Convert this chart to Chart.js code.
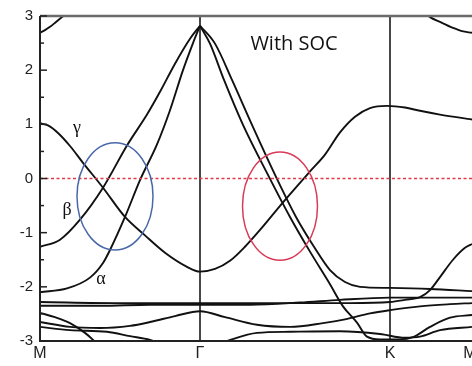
<!DOCTYPE html>
<html>
<head>
<meta charset="utf-8">
<script src="https://cdn.jsdelivr.net/npm/chart.js@4.4.0/dist/chart.umd.min.js"></script>
<style>
  html, body { margin: 0; padding: 0; background: #fff; }
  #wrap { width: 472px; height: 366px; }
</style>
</head>
<body>
<div id="wrap"><canvas id="bandChart"></canvas></div>
<script>
// k-path: high-symmetry points
var kLabels = ['M', 'Γ', 'K', 'M'];
var kPositions = [0, 160, 350, 430];
var kMax = 432;
var energyTicks = [-3, -2, -1, 0, 1, 2, 3];

// bands as [k, E(eV)]
var bandTopM1 = [[0, 2.69], [5, 2.74], [10, 2.80], [16, 2.89], [22, 2.98], [28, 3.07]];
var bandTopM2 = [[384, 3.07], [390, 2.98], [400, 2.89], [413, 2.78], [422, 2.72], [432, 2.69]];
var bandGamma = [[0, 1.02], [8, 0.98], [18, 0.84], [30, 0.60], [43, 0.29], [63, -0.17], [85, -0.71],
  [105, -1.05], [125, -1.37], [147, -1.63], [160, -1.72], [175, -1.67], [190, -1.52], [205, -1.26],
  [220, -0.95], [243, -0.44], [270, 0.13], [285, 0.44], [300, 0.85], [315, 1.14], [330, 1.30],
  [347, 1.34], [365, 1.31], [380, 1.25], [400, 1.18], [432, 1.09]];
var bandBeta = [[0, -1.26], [20, -1.13], [40, -0.76], [63, -0.17], [87, 0.61], [107, 1.18],
  [120, 1.60], [135, 2.12], [150, 2.58], [160, 2.82]];
var bandAlpha = [[0, -2.10], [27, -2.03], [50, -1.83], [63, -1.56], [70, -1.32], [85, -0.71],
  [100, -0.03], [117, 0.63], [130, 1.26], [143, 2.00], [153, 2.50], [160, 2.82]];
var bandR1 = [[160, 2.82], [170, 2.49], [184, 1.82], [203, 0.99], [229, 0.03], [250, -0.71],
  [270, -1.35], [289, -1.92], [303, -2.36], [317, -2.66], [327, -2.92], [340, -2.97],
  [360, -2.97], [373, -2.93], [390, -2.74], [410, -2.57], [432, -2.52]];
var bandR2 = [[160, 2.82], [175, 2.49], [192, 1.82], [212, 0.99], [236, 0.03], [256, -0.71],
  [274, -1.26], [290, -1.69], [305, -1.91], [320, -2.00], [350, -2.02], [390, -2.04], [432, -2.08]];
var bandD = [[0, -2.28], [80, -2.30], [160, -2.30], [210, -2.30], [260, -2.30], [310, -2.30],
  [350, -2.28], [365, -2.24], [380, -2.19], [390, -2.06], [400, -1.82], [413, -1.50],
  [425, -1.28], [432, -1.21]];
var bandF2 = [[0, -2.35], [60, -2.35], [110, -2.33], [160, -2.33], [210, -2.33], [260, -2.29],
  [300, -2.24], [350, -2.20], [390, -2.20], [432, -2.20]];
var bandF3 = [[0, -2.48], [15, -2.56], [30, -2.67], [45, -2.85], [53, -2.98], [60, -3.13]];
var bandF4 = [[0, -2.65], [30, -2.74], [60, -2.76], [90, -2.72], [110, -2.65], [135, -2.54],
  [160, -2.45], [185, -2.56], [217, -2.70], [250, -2.74], [283, -2.67], [305, -2.60],
  [330, -2.49], [350, -2.43], [380, -2.36], [410, -2.32], [432, -2.30]];
var bandF5 = [[0, -2.74], [30, -2.80], [67, -2.83], [90, -2.91], [110, -2.98], [125, -3.09]];
var bandF6 = [[165, -3.11], [183, -3.02], [217, -2.85], [250, -2.83], [300, -2.82], [340, -2.87],
  [365, -2.94], [380, -2.92], [400, -2.80], [432, -2.74]];

var bands = [bandTopM1, bandTopM2, bandGamma, bandBeta, bandAlpha, bandR1, bandR2,
  bandD, bandF2, bandF3, bandF4, bandF5, bandF6];

// crossing regions: [k centre, E centre, k radius, E radius]
var blueRing = [75, -0.33, 38, 0.99];
var redRing = [240, -0.51, 37.5, 1.0];

// text labels: [text, k, E]
var greekLabels = [['γ', 37, 0.92], ['β', 27, -0.58], ['α', 61, -1.86]];
var titleLabel = ['With SOC', 254, 2.48];

var datasets = bands.map(function(b) {
  return {
    data: b.map(function(p) { return { x: p[0], y: p[1] }; }),
    borderColor: '#111',
    borderWidth: 1.9,
    pointRadius: 0,
    fill: false,
    cubicInterpolationMode: 'monotone',
    clip: 0
  };
});

var overlay = {
  id: 'overlay',
  beforeDatasetsDraw: function(chart) {
    var ctx = chart.ctx, a = chart.chartArea, xs = chart.scales.x;
    ctx.save();
    ctx.strokeStyle = '#333';
    ctx.lineWidth = 1.8;
    kPositions.slice(1, 3).forEach(function(k) {
      var px = xs.getPixelForValue(k);
      ctx.beginPath();
      ctx.moveTo(px, a.top);
      ctx.lineTo(px, a.bottom);
      ctx.stroke();
    });
    ctx.restore();
  },
  afterDatasetsDraw: function(chart) {
    var ctx = chart.ctx, a = chart.chartArea, xs = chart.scales.x, ys = chart.scales.y;
    ctx.save();

    // Fermi level
    ctx.strokeStyle = '#e23a48';
    ctx.lineWidth = 1.6;
    ctx.setLineDash([3, 2.5]);
    var y0 = ys.getPixelForValue(0);
    ctx.beginPath();
    ctx.moveTo(a.left, y0);
    ctx.lineTo(a.right, y0);
    ctx.stroke();
    ctx.setLineDash([]);

    // rings
    function ring(r, color) {
      var cx = xs.getPixelForValue(r[0]), cy = ys.getPixelForValue(r[1]);
      var rx = xs.getPixelForValue(r[0] + r[2]) - cx;
      var ry = cy - ys.getPixelForValue(r[1] + r[3]);
      ctx.strokeStyle = color;
      ctx.lineWidth = 1.5;
      ctx.beginPath();
      ctx.ellipse(cx, cy, rx, ry, 0, 0, Math.PI * 2);
      ctx.stroke();
    }
    ring(blueRing, '#4a68a8');
    ring(redRing, '#d83c58');

    // frame
    ctx.strokeStyle = '#6a6a6a';
    ctx.lineWidth = 2.5;
    ctx.beginPath();
    ctx.moveTo(a.left, a.top);
    ctx.lineTo(a.right, a.top);
    ctx.stroke();
    ctx.strokeStyle = '#222';
    ctx.lineWidth = 2;
    ctx.beginPath();
    ctx.moveTo(a.left, a.top);
    ctx.lineTo(a.left, a.bottom);
    ctx.lineTo(a.right, a.bottom);
    ctx.stroke();

    // inward ticks on the energy axis
    ctx.lineWidth = 1.5;
    for (var e = -3; e <= 3; e += 0.5) {
      var py = ys.getPixelForValue(e);
      var len = Number.isInteger(e) ? 7 : 4;
      ctx.beginPath();
      ctx.moveTo(a.left, py);
      ctx.lineTo(a.left + len, py);
      ctx.stroke();
    }

    // labels
    ctx.fillStyle = '#111';
    ctx.textAlign = 'center';
    ctx.textBaseline = 'middle';
    ctx.font = '18px "Liberation Serif", serif';
    greekLabels.forEach(function(g) {
      ctx.fillText(g[0], xs.getPixelForValue(g[1]), ys.getPixelForValue(g[2]));
    });
    ctx.font = '20px "Open Sans", sans-serif';
    ctx.fillText(titleLabel[0], xs.getPixelForValue(titleLabel[1]), ys.getPixelForValue(titleLabel[2]));

    ctx.restore();
  }
};

new Chart(document.getElementById('bandChart'), {
  type: 'line',
  data: { datasets: datasets },
  options: {
    responsive: true,
    maintainAspectRatio: false,
    animation: false,
    layout: { padding: { top: 16, right: 0, left: 0, bottom: 0 } },
    plugins: { legend: { display: false }, tooltip: { enabled: false } },
    scales: {
      x: {
        type: 'linear',
        min: 0,
        max: kMax,
        grid: { display: false, drawTicks: false },
        border: { display: false },
        afterBuildTicks: function(scale) {
          scale.ticks = kPositions.map(function(k) { return { value: k }; });
        },
        afterFit: function(scale) {
          scale.height = 25;
          scale.paddingLeft = 0;
          scale.paddingRight = 0;
        },
        ticks: {
          autoSkip: false,
          maxRotation: 0,
          padding: 3,
          color: '#222',
          font: { family: '"Liberation Sans", Arial, sans-serif', size: 16 },
          callback: function(v, i) { return kLabels[i]; }
        }
      },
      y: {
        min: -3,
        max: 3,
        grid: { display: false, drawTicks: false },
        border: { display: false },
        afterBuildTicks: function(scale) {
          scale.ticks = energyTicks.map(function(e) { return { value: e }; });
        },
        afterFit: function(scale) {
          scale.width = 40;
          scale.paddingTop = 0;
          scale.paddingBottom = 0;
        },
        ticks: {
          padding: 7,
          color: '#222',
          font: { family: '"Liberation Sans", Arial, sans-serif', size: 15 }
        }
      }
    }
  },
  plugins: [overlay]
});
</script>
</body>
</html>
